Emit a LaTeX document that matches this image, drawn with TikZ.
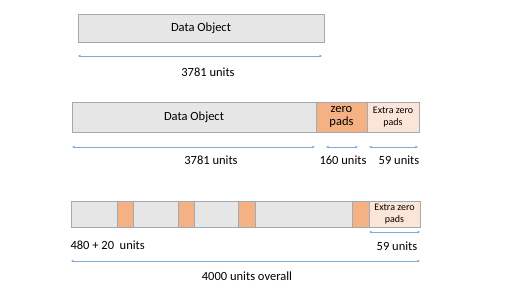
\documentclass[tikz,border=0pt]{standalone}
\usepackage{fontspec}
\setmainfont{Carlito}
\usetikzlibrary{arrows.meta,positioning}
\definecolor{boxgray}{HTML}{E7E6E6}
\definecolor{edgegray}{HTML}{A3A9B3}
\definecolor{padorange}{HTML}{F4B183}
\definecolor{padpale}{HTML}{FBE5D6}
\definecolor{dimblue}{HTML}{7FA9D8}

\begin{document}
\begin{tikzpicture}[x=1pt, y=1pt, node distance=0pt,
  seg/.style={draw=edgegray, line width=0.6pt, fill=boxgray, inner sep=0pt, outer sep=0pt, anchor=west, align=center, font=\fontsize{12.5}{13}\selectfont},
  pad/.style={seg, fill=padorange},
  xpad/.style={seg, fill=padpale, font=\fontsize{10}{11.5}\selectfont},
  dim/.style={{Stealth[length=3pt,width=2.6pt]}-{Stealth[length=3pt,width=2.6pt]}, draw=dimblue, line width=0.5pt},
  lab/.style={font=\fontsize{12.5}{14}\selectfont}]
  \useasboundingbox (0,0) rectangle (512,-289);
  % the object alone
  \node[seg, minimum width=246pt, minimum height=28pt] (obj1) at (78,-28) {Data Object};
  \draw[dim] ([yshift=-14pt]obj1.south west) -- ([yshift=-14pt,xshift=-2pt]obj1.south east);
  \node[lab] (len1) at (208,-72) {3781 units};
  % object + zero pads
  \node[seg, minimum width=244pt, minimum height=30pt] (obj2) at (72,-117) {Data Object};
  \node[pad, minimum width=51pt, minimum height=30pt, right=of obj2] (zp2) {zero\\pads};
  \node[xpad, minimum width=52pt, minimum height=30pt, right=of zp2] (xp2) {Extra zero\\pads};
  \draw[dim] ([yshift=-15pt]obj2.south west) -- ([yshift=-15pt,xshift=-1pt]obj2.south east);
  \draw[dim] ([yshift=-15pt,xshift=10pt]zp2.south west) -- ([yshift=-15pt,xshift=-9pt]zp2.south east);
  \draw[dim] ([yshift=-15pt,xshift=2pt]xp2.south west) -- ([yshift=-15pt,xshift=-1pt]xp2.south east);
  \node[lab] (len2) at (211,-160) {3781 units};
  \node[lab] (zlen2) at (343,-160) {160 units};
  \node[lab] (xlen2) at (399,-160) {59 units};
  % split into blocks
  \node[seg, minimum width=46pt, minimum height=26pt] (s1) at (71,-214) {};
  \node[pad, minimum width=16pt, minimum height=26pt, right=of s1] (p1) {};
  \node[seg, minimum width=45pt, minimum height=26pt, right=of p1] (s2) {};
  \node[pad, minimum width=16pt, minimum height=26pt, right=of s2] (p2) {};
  \node[seg, minimum width=44pt, minimum height=26pt, right=of p2] (s3) {};
  \node[pad, minimum width=17pt, minimum height=26pt, right=of s3] (p3) {};
  \node[seg, minimum width=97pt, minimum height=26pt, right=of p3] (s4) {};
  \node[pad, minimum width=17pt, minimum height=26pt, right=of s4] (p4) {};
  \node[xpad, minimum width=51pt, minimum height=26pt, right=of p4] (xp3) {Extra zero\\pads};
  \draw[dim] ([yshift=-5pt]xp3.south west) -- ([yshift=-5pt]xp3.south east);
  \node[lab, anchor=west] (blk3) at (67,-245) {480 + 20\ \ units};
  \node[lab] (xlen3) at (397,-246) {59 units};
  \draw[dim] ([yshift=-34pt]s1.south west) -- ([yshift=-34pt]xp3.south east);
  \node[lab] (all3) at (247,-276) {4000 units overall};
\end{tikzpicture}
\end{document}
